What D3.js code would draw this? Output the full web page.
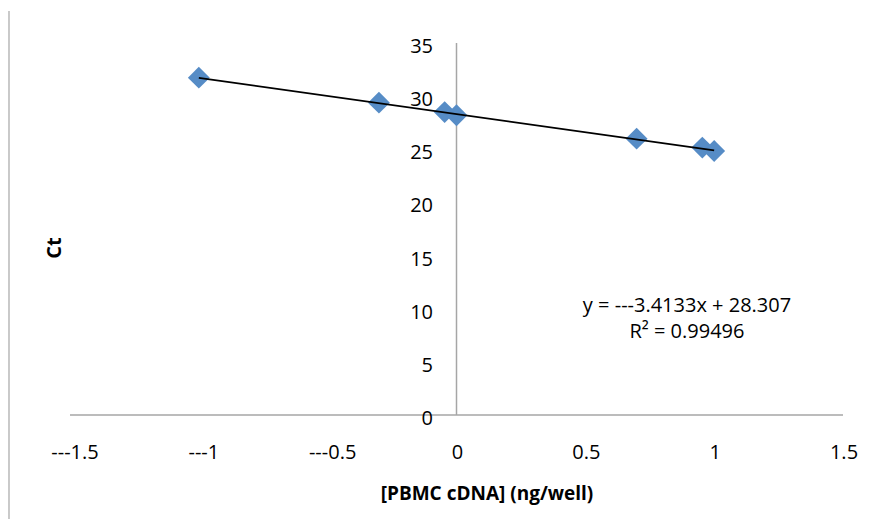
<!DOCTYPE html>
<html>
<head>
  <meta charset="utf-8">
  <script src="https://d3js.org/d3.v7.min.js"></script>
  <style>
    body { margin: 0; background: #fff; }
    text { font-family: "Open Sans", "DejaVu Sans", sans-serif; fill: #000; }
  </style>
</head>
<body>
  <div id="chart"></div>
  <script>
    // dados (log10 da concentracao x Ct)
    var logConc = [-1, -0.301, -0.046, 0, 0.699, 0.954, 1];
    var ctValues = [31.74, 29.39, 28.5, 28.2, 26.0, 25.16, 24.84];
    var xTicks = [-1.5, -1, -0.5, 0, 0.5, 1, 1.5];
    var yTicks = [0, 5, 10, 15, 20, 25, 30, 35];
    var slope = -3.4133, intercept = 28.307;
    var equacao = "y = ---3.4133x + 28.307";
    var r2 = "R² = 0.99496";

    var largura = 876, altura = 519;
    var svg = d3.select('#chart').append('svg')
      .attr('width', largura).attr('height', altura);

    var x = d3.scaleLinear().domain([-1.5, 1.5]).range([70, 843]);
    var y = d3.scaleLinear().domain([0, 35]).range([415, 43]);

    // borda esquerda da area do grafico
    svg.append('line')
      .attr('x1', 9).attr('x2', 9).attr('y1', 11).attr('y2', altura)
      .attr('stroke', '#a6a6a6').attr('stroke-width', 1.2);

    // eixo x (cruza em y = 0)
    svg.append('line')
      .attr('x1', x(-1.5)).attr('x2', x(1.5))
      .attr('y1', y(0)).attr('y2', y(0))
      .attr('stroke', '#a6a6a6').attr('stroke-width', 1.5);

    // eixo y (cruza em x = 0)
    svg.append('line')
      .attr('x1', x(0)).attr('x2', x(0))
      .attr('y1', y(35)).attr('y2', y(0))
      .attr('stroke', '#a6a6a6').attr('stroke-width', 1.5);

    function rotulo(v) {
      return v < 0 ? '---' + Math.abs(v) : String(v);
    }

    svg.selectAll('.xtick')
      .data(xTicks).enter().append('text')
      .attr('class', 'xtick')
      .attr('x', d => x(d) + (d < 0 ? 5 : 1))
      .attr('y', 459)
      .attr('text-anchor', 'middle')
      .style('font-size', '20px')
      .text(rotulo);

    svg.selectAll('.ytick')
      .data(yTicks).enter().append('text')
      .attr('class', 'ytick')
      .attr('x', 433)
      .attr('y', d => y(d) + 10)
      .attr('text-anchor', 'end')
      .style('font-size', '20px')
      .text(rotulo);

    var ext = d3.extent(logConc);

    // pontos (losangos)
    var dados = logConc.map((v, i) => ({x: v, y: ctValues[i]}));
    svg.selectAll('.ponto')
      .data(dados).enter().append('path')
      .attr('class', 'ponto')
      .attr('d', d3.symbol().type(d3.symbolSquare).size(240))
      .attr('transform', d => 'translate(' + x(d.x) + ',' + y(d.y) + ') rotate(45)')
      .attr('fill', '#568cc6');

    // linha de tendencia por cima dos pontos
    svg.append('line')
      .attr('x1', x(ext[0])).attr('y1', y(slope * ext[0] + intercept))
      .attr('x2', x(ext[1])).attr('y2', y(slope * ext[1] + intercept))
      .attr('stroke', '#000').attr('stroke-width', 1.8);

    svg.append('text')
      .attr('x', 687).attr('y', 312)
      .attr('text-anchor', 'middle')
      .style('font-size', '20px')
      .text(equacao);
    svg.append('text')
      .attr('x', 687).attr('y', 338)
      .attr('text-anchor', 'middle')
      .style('font-size', '20px')
      .text(r2);

    // titulos dos eixos
    svg.append('text')
      .attr('transform', 'translate(61,248) rotate(-90)')
      .attr('text-anchor', 'middle')
      .style('font-size', '20px').style('font-weight', 'bold')
      .text('Ct');
    svg.append('text')
      .attr('x', 487).attr('y', 500)
      .attr('text-anchor', 'middle')
      .style('font-size', '19px').style('font-weight', 'bold')
      .text('[PBMC cDNA] (ng/well)');
  </script>
</body>
</html>
